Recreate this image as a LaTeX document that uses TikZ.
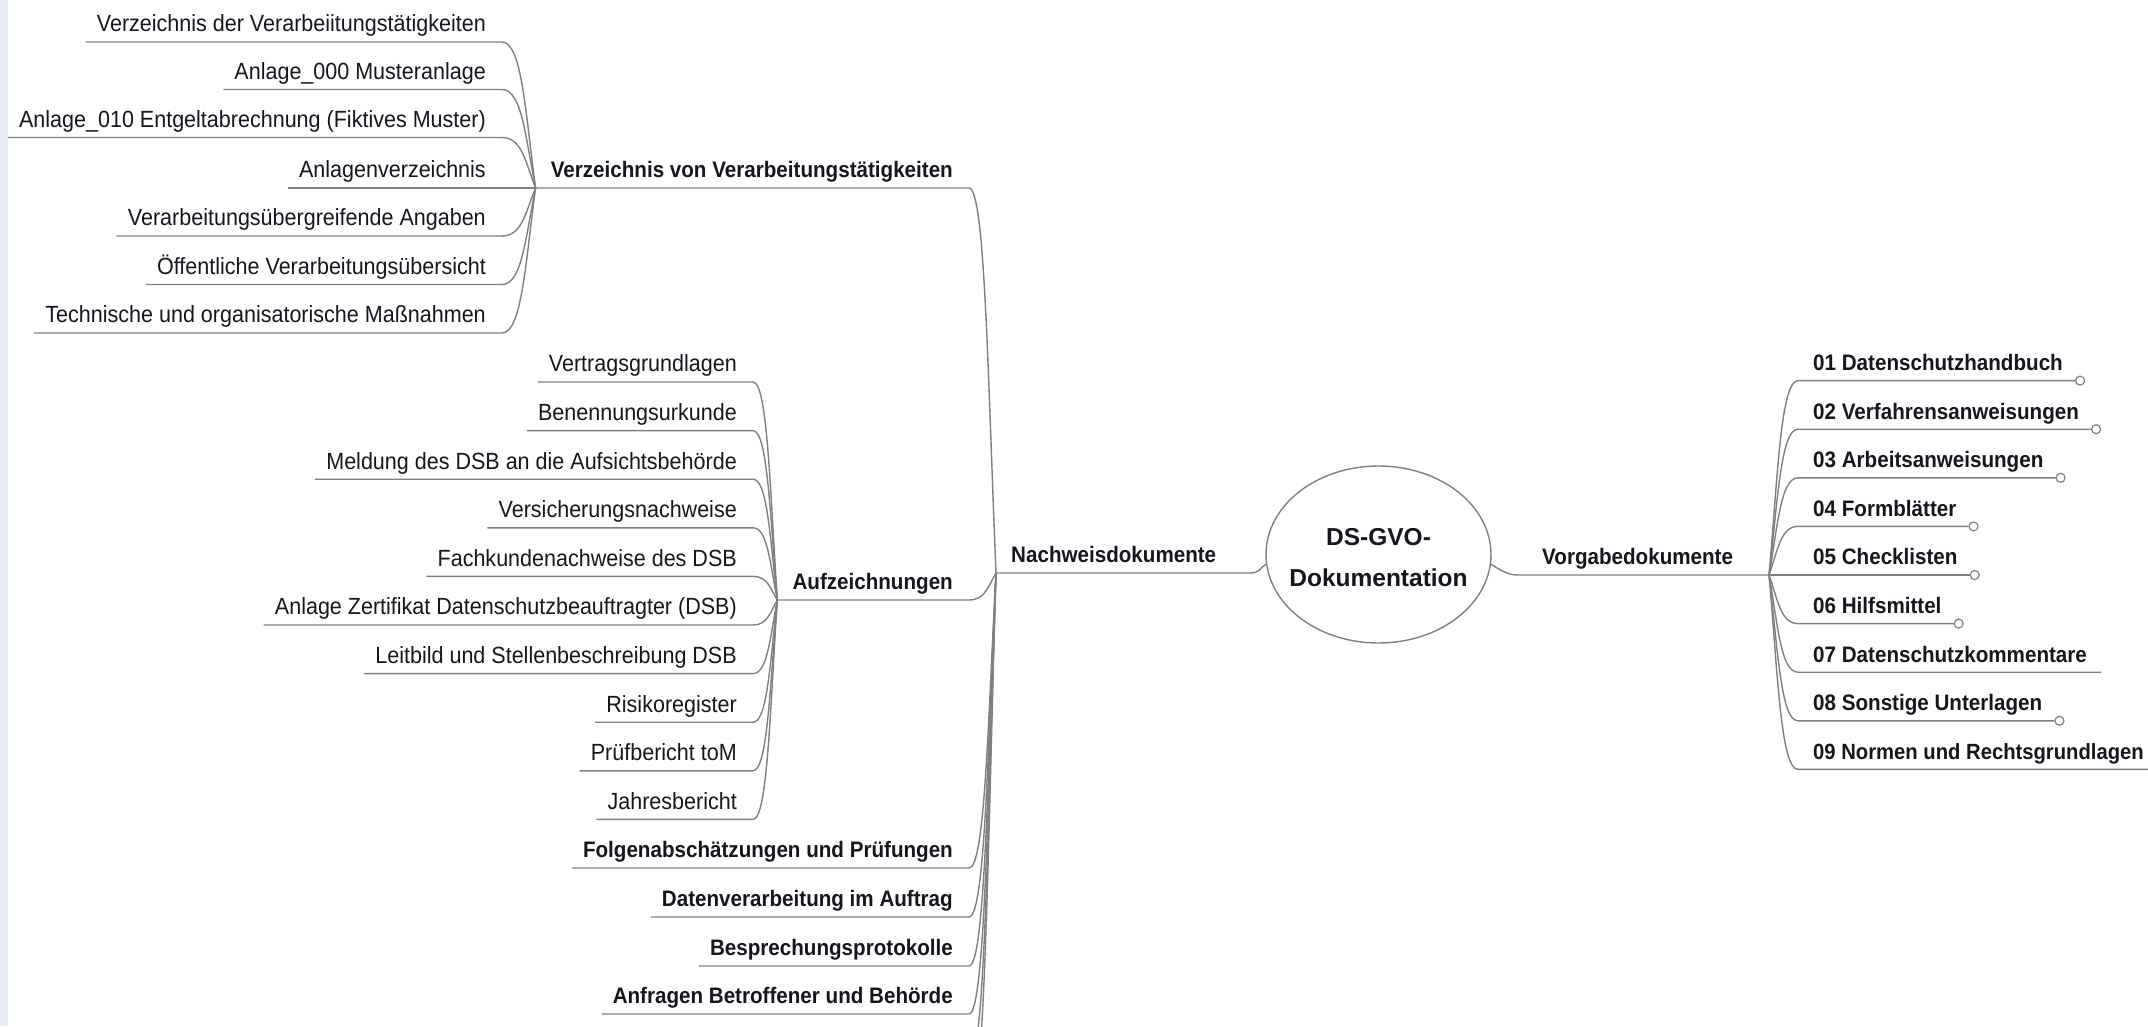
\documentclass[tikz,border=0pt]{standalone}
\usepackage{fontspec}
\setmainfont{Liberation Sans}
\newfontfamily\narrowsans{Liberation Sans}[FakeStretch=0.92]
\usetikzlibrary{calc,shapes.geometric}

\definecolor{linegray}{RGB}{128,128,128}
\definecolor{ink}{RGB}{22,22,32}
\definecolor{edgeblue}{RGB}{232,236,243}

\tikzset{
  link/.style={draw=linegray, line width=1.4pt},
  txtR/.style={font=\narrowsans\fontsize{23.4}{27}\selectfont, text=ink, inner sep=0pt, text depth=10pt},
  txtB/.style={font=\narrowsans\fontsize{22.4}{27}\selectfont\bfseries, text=ink, inner sep=0pt, text depth=10pt},
  txtBs/.style={font=\narrowsans\fontsize{22}{27}\selectfont\bfseries, text=ink, inner sep=0pt, text depth=10pt},
  knob/.style={circle, draw=linegray, line width=1.2pt, fill=white, minimum size=9pt, inner sep=0pt},
  rootshape/.style={ellipse, draw=linegray, line width=1.4pt, minimum width=225pt, minimum height=177pt, inner sep=0pt},
  roottext/.style={align=center, font=\fontsize{24.5}{41}\selectfont\bfseries, text=ink, inner sep=0pt},
}

% curved connector from a junction (#1) to the end of a child's underline (#2), then #3
\newcommand\mmlink[3]{%
  \draw[link] (#1) .. controls ($0.5*(#1)+0.2*(#1|-#2)+0.3*(#2)$)
                   and ($0.4*(#2)+0.6*(#1|-#2)$) .. (#2) #3;}

% child on the left: [style] name, junction, right edge x, underline y, text
\newcommand\mmleafL[6][txtR]{%
  \node[#1, anchor=south east] (#2) at (#4,#5) {#6};
  \coordinate (#2e) at ([xshift=16pt]#2.south east);
  \mmlink{#3}{#2e}{-- ([xshift=-11pt]#2.south west)}}

% child on the right with its small end circle: name, underline y, text
\newcommand\mmleafR[3]{%
  \node[txtB, anchor=south west] (#1) at (1813,#2) {#3};
  \coordinate (#1e) at ([xshift=-15pt]#1.south west);
  \node[knob] (#1k) at ([xshift=17pt]#1.south east) {};
  \mmlink{JV}{#1e}{-- (#1k.west)}}

% child on the right without end circle: [style] name, underline y, text
\newcommand\mmleafRplain[4][txtB]{%
  \node[#1, anchor=south west] (#2) at (1813,#3) {#4};
  \coordinate (#2e) at ([xshift=-15pt]#2.south west);
  \mmlink{JV}{#2e}{-- ([xshift=14pt]#2.south east)}}

\begin{document}
\begin{tikzpicture}[x=1pt,y=-1pt]
\clip (0,0) rectangle (2148,1026);
\fill[white] (0,0) rectangle (2148,1026);
\fill[edgeblue] (0,0) rectangle (8,1026);

% central topic
\node[rootshape] (root) at (1378.5,554.5) {};
\node[roottext] (rootlabel) at (1378.5,557.5) {DS-GVO-\\Dokumentation};

% main branch: Nachweisdokumente
\node[txtB, anchor=south west] (nw) at (1011,573) {Nachweisdokumente};
\coordinate (JN) at ([xshift=-15pt]nw.south west);
\coordinate (nwr) at (1250,573);
\draw[link] (JN) -- (nwr) .. controls +(10,0) and +(-7,4) .. (root.185);

% main branch: Vorgabedokumente
\node[txtB, anchor=south west] (vg) at (1542,575) {Vorgabedokumente};
\coordinate (JV) at (1769,575);
\coordinate (vgl) at (1517,575);
\draw[link] (root.355) .. controls +(7,4) and +(-10,0) .. (vgl) -- (JV);

% Verzeichnis von Verarbeitungstaetigkeiten
\node[txtB, anchor=south east] (vv) at (953,188) {Verzeichnis von Verarbeitungstätigkeiten};
\coordinate (JA) at ([xshift=-15pt]vv.south west);
\coordinate (vve) at ([xshift=16pt]vv.south east);
\mmlink{JN}{vve}{-- (JA)}

\mmleafL{a1}{JA}{486}{42}{Verzeichnis der Verarbeiitungstätigkeiten}
\mmleafL{a2}{JA}{486}{89.5}{Anlage\_000 Musteranlage}
\mmleafL{a3}{JA}{486}{137.5}{Anlage\_010 Entgeltabrechnung (Fiktives Muster)}
\mmleafL{a4}{JA}{486}{188}{Anlagenverzeichnis}
\mmleafL{a5}{JA}{486}{236}{Verarbeitungsübergreifende Angaben}
\mmleafL{a6}{JA}{486}{284.5}{Öffentliche Verarbeitungsübersicht}
\mmleafL{a7}{JA}{486}{333}{Technische und organisatorische Maßnahmen}

% Aufzeichnungen
\node[txtB, anchor=south east] (auf) at (953,600) {Aufzeichnungen};
\coordinate (JB) at ([xshift=-15pt]auf.south west);
\coordinate (aufe) at ([xshift=16pt]auf.south east);
\mmlink{JN}{aufe}{-- (JB)}

\mmleafL{b1}{JB}{737}{382}{Vertragsgrundlagen}
\mmleafL{b2}{JB}{737}{430.6}{Benennungsurkunde}
\mmleafL{b3}{JB}{737}{479.2}{Meldung des DSB an die Aufsichtsbehörde}
\mmleafL{b4}{JB}{737}{527.8}{Versicherungsnachweise}
\mmleafL{b5}{JB}{737}{576.4}{Fachkundenachweise des DSB}
\mmleafL{b6}{JB}{737}{625}{Anlage Zertifikat Datenschutzbeauftragter (DSB)}
\mmleafL{b7}{JB}{737}{673.6}{Leitbild und Stellenbeschreibung DSB}
\mmleafL{b8}{JB}{737}{722.2}{Risikoregister}
\mmleafL{b9}{JB}{737}{770.8}{Prüfbericht toM}
\mmleafL{b10}{JB}{737}{819.4}{Jahresbericht}

% further branches of Nachweisdokumente
\mmleafL[txtB]{n3}{JN}{953}{868}{Folgenabschätzungen und Prüfungen}
\mmleafL[txtB]{n4}{JN}{953}{917}{Datenverarbeitung im Auftrag}
\mmleafL[txtB]{n5}{JN}{953}{966}{Besprechungsprotokolle}
\mmleafL[txtB]{n6}{JN}{953}{1014}{Anfragen Betroffener und Behörde}
% branches that continue below the visible area
\coordinate (n7e) at (969,1063);
\coordinate (n8e) at (969,1111);
\mmlink{JN}{n7e}{}
\mmlink{JN}{n8e}{}

% children of Vorgabedokumente
\mmleafR{r1}{380.6}{01 Datenschutzhandbuch}
\mmleafR{r2}{429.2}{02 Verfahrensanweisungen}
\mmleafR{r3}{477.8}{03 Arbeitsanweisungen}
\mmleafR{r4}{526.4}{04 Formblätter}
\mmleafR{r5}{575}{05 Checklisten}
\mmleafR{r6}{623.6}{06 Hilfsmittel}
\mmleafRplain{r7}{672.2}{07 Datenschutzkommentare}
\mmleafR{r8}{720.8}{08 Sonstige Unterlagen}
\mmleafRplain[txtBs]{r9}{769.4}{09 Normen und Rechtsgrundlagen}
\end{tikzpicture}
\end{document}
